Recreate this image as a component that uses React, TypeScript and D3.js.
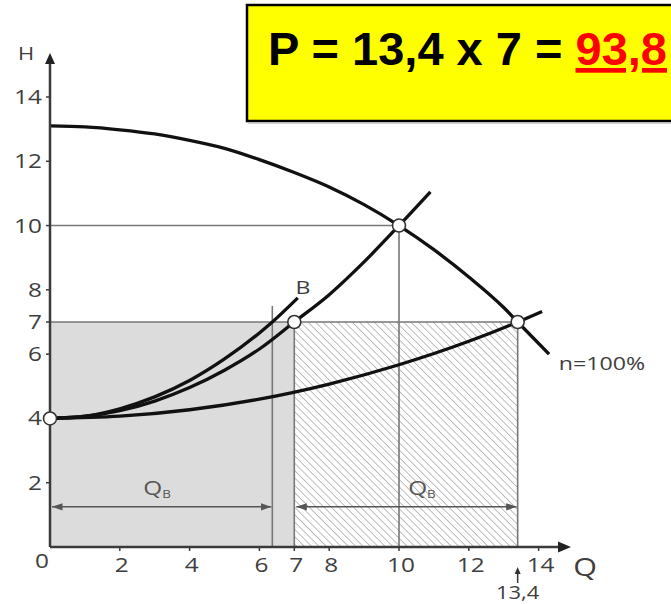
import React from "react";
import * as d3 from "d3";

// ---- data ----
const ticksX = [2, 4, 6, 7, 8, 10, 12, 14];
const ticksY = [2, 4, 6, 7, 8, 10, 12, 14];

// pump curve n = 100%
const pumpQ = [0, 1, 2, 3, 4, 5, 6, 7, 8, 9, 10, 11, 12, 13, 13.4, 14.3];
const pumpH = [13.1, 13.07, 12.98, 12.85, 12.65, 12.4, 12.05, 11.65, 11.2, 10.65, 10.0, 9.25, 8.4, 7.45, 7.0, 6.0];

// system curve through (7,7) and (10,10)
const sysAQ = [0, 1, 2, 3, 4, 5, 6, 7, 8, 9, 10, 10.9];
const sysAH = [4.0, 4.06, 4.24, 4.54, 4.96, 5.5, 6.16, 7.0, 7.85, 8.87, 10.0, 11.05];

// system curve B (throttled)
const sysBQ = [0, 1, 2, 3, 4, 5, 6, 6.37, 7.1];
const sysBH = [4.0, 4.07, 4.3, 4.67, 5.18, 5.85, 6.66, 7.0, 7.75];

// flat system curve to (13.4,7)
const sysCQ = [0, 2, 4, 6, 8, 10, 12, 13.4, 14.1];
const sysCH = [4.0, 4.07, 4.27, 4.6, 5.07, 5.67, 6.4, 7.0, 7.33];

// operating points
const opQ = [0, 7, 10, 13.4];
const opH = [4, 7, 10, 7];

const qB = 6.37;
const qLow = 7;
const qHigh = 13.4;
const hOp = 7;
const hTop = 10;
const qTop = 10;
const hDim = 1.25;

const formulaParts = ["P = 13,4 x 7 = ", "93,8"];

export default function App() {
  const W = 671;
  const H = 604;
  const x = d3.scaleLinear().domain([0, 14]).range([50, 538.6]);
  const y = d3.scaleLinear().domain([0, 14]).range([547, 97]);

  const line = d3
    .line<[number, number]>()
    .x((d) => x(d[0]))
    .y((d) => y(d[1]))
    .curve(d3.curveMonotoneX);

  const zip = (a: number[], b: number[]) => a.map((v, i) => [v, b[i]] as [number, number]);

  const labelColor = "#3e3e3e";
  const gridColor = "#777";
  const font = "'Open Sans', 'DejaVu Sans', sans-serif";
  const sx = 1.22;

  const Label = ({ tx, ty, text, anchor = "middle", size = 20, fill = labelColor }: any) => (
    <text
      transform={`translate(${tx},${ty}) scale(${sx},1)`}
      textAnchor={anchor}
      dy="0.35em"
      fontFamily={font}
      fontSize={size}
      fill={fill}
    >
      {text}
    </text>
  );

  return (
    <svg
      width={W}
      height={H}
      style={{ position: "absolute", left: 0, top: 0, background: "#fff" }}
    >
      <defs>
        <pattern
          id="hatch"
          width={5.2}
          height={10}
          patternUnits="userSpaceOnUse"
          patternTransform="rotate(-45)"
        >
          <line x1={0} y1={0} x2={0} y2={10} stroke="#8a8a8a" strokeWidth={1.1} />
        </pattern>
        <marker id="dimArrow" viewBox="0 0 10 10" refX={10} refY={5} markerWidth={7} markerHeight={7} orient="auto-start-reverse">
          <path d="M0,1.5 L10,5 L0,8.5 Z" fill="#555" />
        </marker>
      </defs>

      {/* shaded area Q 0..7, H 0..7 */}
      <rect x={x(0)} y={y(hOp)} width={x(qLow) - x(0)} height={y(0) - y(hOp)} fill="#dcdcdc" />
      {/* hatched area Q 7..13.4 */}
      <rect x={x(qLow)} y={y(hOp)} width={x(qHigh) - x(qLow)} height={y(0) - y(hOp)} fill="#fff" />
      <rect x={x(qLow)} y={y(hOp)} width={x(qHigh) - x(qLow)} height={y(0) - y(hOp)} fill="url(#hatch)" />

      {/* reference lines */}
      <g stroke={gridColor} strokeWidth={1.6} fill="none">
        <line x1={x(0)} x2={x(qTop)} y1={y(hTop)} y2={y(hTop)} />
        <line x1={x(qTop)} x2={x(qTop)} y1={y(hTop)} y2={y(0)} />
        <line x1={x(0)} x2={x(qHigh)} y1={y(hOp)} y2={y(hOp)} />
        <line x1={x(qLow)} x2={x(qLow)} y1={y(hOp)} y2={y(0)} />
        <line x1={x(qHigh)} x2={x(qHigh)} y1={y(hOp)} y2={y(0)} />
        <line x1={x(qB)} x2={x(qB)} y1={y(7.5)} y2={y(0)} />
      </g>

      {/* dimension arrows */}
      <g stroke="#555" strokeWidth={1.5}>
        <line x1={x(0) + 2} x2={x(qB) - 1} y1={y(hDim)} y2={y(hDim)} markerStart="url(#dimArrow)" markerEnd="url(#dimArrow)" />
        <line x1={x(qLow) + 2} x2={x(qHigh) - 1} y1={y(hDim)} y2={y(hDim)} markerStart="url(#dimArrow)" markerEnd="url(#dimArrow)" />
      </g>
      <text transform={`translate(${(x(0) + x(qB)) / 2 - 4},${y(hDim) - 12}) scale(${sx},1)`} textAnchor="middle" fontFamily={font} fontSize={20} fill="#555">
        Q<tspan fontSize={11} dy={3}>B</tspan>
      </text>
      <text transform={`translate(${(x(qLow) + x(qHigh)) / 2 + 16},${y(hDim) - 12}) scale(${sx},1)`} textAnchor="middle" fontFamily={font} fontSize={20} fill="#555">
        Q<tspan fontSize={11} dy={3}>B</tspan>
      </text>

      {/* curves */}
      <g fill="none" stroke="#111" strokeWidth={3.3} strokeLinecap="butt">
        <path d={line(zip(pumpQ, pumpH)) || ""} />
        <path d={line(zip(sysAQ, sysAH)) || ""} />
        <path d={line(zip(sysBQ, sysBH)) || ""} />
        <path d={line(zip(sysCQ, sysCH)) || ""} />
      </g>

      {/* axes */}
      <g stroke="#3a3a3a" strokeWidth={2.5}>
        <line x1={x(0)} x2={x(0)} y1={y(0)} y2={62} />
        <line x1={x(0)} x2={560} y1={y(0)} y2={y(0)} />
        {ticksY.map((t) => (
          <line key={"ty" + t} x1={x(0) - 4} x2={x(0)} y1={y(t)} y2={y(t)} strokeWidth={1.5} />
        ))}
        {ticksX.map((t) => (
          <line key={"tx" + t} x1={x(t)} x2={x(t)} y1={y(0)} y2={y(0) + 4} strokeWidth={1.5} />
        ))}
      </g>
      <path d={`M${x(0)},53 L${x(0) + 5},64 L${x(0) - 5},64 Z`} fill="#222" />
      <path d={`M571,${y(0)} L558,${y(0) - 5.5} L558,${y(0) + 5.5} Z`} fill="#222" />

      {/* operating points */}
      {opQ.map((q, i) => (
        <circle key={"op" + i} cx={x(q)} cy={y(opH[i])} r={6.5} fill="#fff" stroke="#333" strokeWidth={1.6} />
      ))}

      {/* tick labels */}
      {ticksY.map((t) => (
        <Label key={"ly" + t} tx={42} ty={y(t)} text={String(t)} anchor="end" />
      ))}
      {ticksX.map((t) => (
        <Label key={"lx" + t} tx={x(t) + 2} ty={565} text={String(t)} />
      ))}
      <Label tx={42} ty={561} text="0" />
      <Label tx={26} ty={54} text="H" size={18} />
      <Label tx={585} ty={567} text="Q" size={25} />
      <Label tx={303} ty={287} text="B" size={19} />
      <Label tx={602} ty={363} text="n=100%" size={19} />

      {/* 13,4 marker */}
      <line x1={x(qHigh)} x2={x(qHigh)} y1={571} y2={583} stroke="#333" strokeWidth={1.5} />
      <path d={`M${x(qHigh)},567 L${x(qHigh) + 3},574 L${x(qHigh) - 3},574 Z`} fill="#333" />
      <Label tx={x(qHigh)} ty={593} text="13,4" size={18} />

      {/* formula box */}
      <rect x={247} y={5} width={440} height={116} fill="#ffff00" stroke="#000" strokeWidth={2.5} />
      <line x1={248} x2={671} y1={123} y2={123} stroke="#bbb" strokeWidth={1.5} />
      <text x={268} y={65} fontFamily="'Liberation Sans', Arial, sans-serif" fontWeight="bold" fontSize={47} fill="#000">
        {formulaParts[0]}
        <tspan fill="#ff0000" textDecoration="underline">{formulaParts[1]}</tspan>
      </text>
    </svg>
  );
}
